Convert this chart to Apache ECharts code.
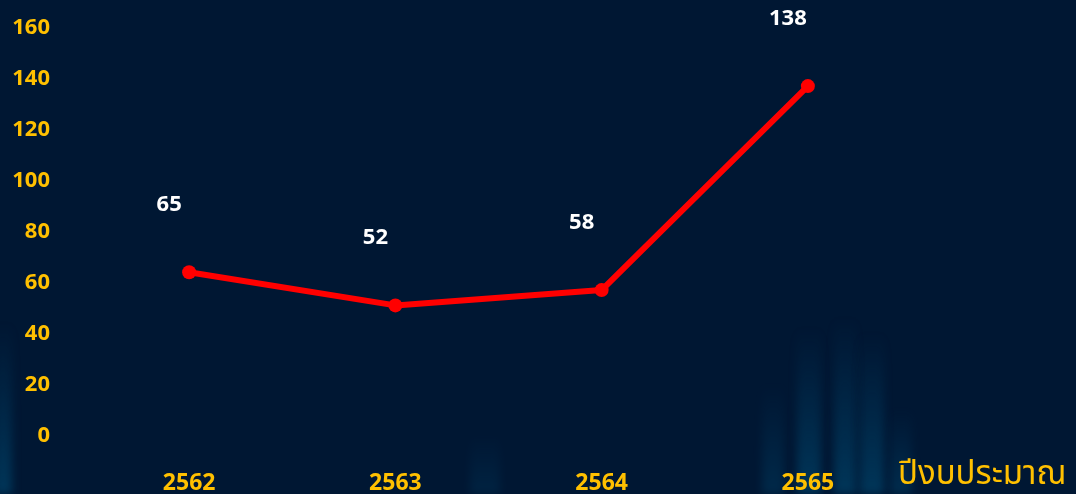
<!DOCTYPE html>
<html>
<head>
<meta charset="utf-8">
<script src="https://cdn.jsdelivr.net/npm/echarts@6/dist/echarts.min.js"></script>
<style>
  html, body { margin: 0; padding: 0; background: #001733; }
  #wrap { position: relative; width: 1076px; height: 494px; overflow: hidden; }
  #main { position: absolute; left: 0; top: 0; width: 1076px; height: 494px; }
  .glow {
    position: absolute;
    bottom: 0;
    filter: blur(4px);
    background: linear-gradient(to bottom, rgba(0, 60, 100, 0), rgba(0, 75, 115, 0.6));
  }
</style>
</head>
<body>
<div id="wrap">
  <!-- แสงพื้นหลัง -->
  <div class="glow" style="left:-6px;width:18px;height:170px"></div>
  <div class="glow" style="left:470px;width:30px;height:60px;opacity:.4"></div>
  <div class="glow" style="left:762px;width:22px;height:110px;opacity:.6"></div>
  <div class="glow" style="left:797px;width:24px;height:165px"></div>
  <div class="glow" style="left:834px;width:22px;height:175px"></div>
  <div class="glow" style="left:860px;width:24px;height:160px"></div>
  <div class="glow" style="left:890px;width:22px;height:85px;opacity:.7"></div>
  <div id="main"></div>
</div>
<script>
  // ข้อมูล
  const years = ['2562', '2563', '2564', '2565'];
  const amounts = [65, 52, 58, 138];
  const yTicks = { min: 0, max: 160, interval: 20 };

  const fontFam = '"Noto Sans Thai", "Noto Sans", Roboto, sans-serif';
  const yellow = '#ffc000';

  const chart = echarts.init(document.getElementById('main'));

  const option = {
    backgroundColor: 'transparent',
    grid: {
      left: 86,
      right: 165,
      top: 30,
      bottom: 56,
      containLabel: false,
      outerBoundsMode: 'none'
    },
    xAxis: {
      type: 'category',
      data: years,
      name: 'ปีงบประมาณ',
      nameLocation: 'end',
      nameGap: -13,
      nameTextStyle: {
        color: yellow,
        fontSize: 33,
        fontFamily: fontFam,
        align: 'left',
        verticalAlign: 'top',
        padding: [23, 0, 0, 0]
      },
      axisLine: { show: false },
      axisTick: { show: false },
      axisLabel: {
        color: yellow,
        fontSize: 23,
        fontWeight: 'bold',
        fontFamily: fontFam,
        margin: 36
      },
      splitLine: { show: false }
    },
    yAxis: {
      type: 'value',
      min: yTicks.min,
      max: yTicks.max,
      interval: yTicks.interval,
      axisLine: { show: false },
      axisTick: { show: false },
      splitLine: { show: false },
      axisLabel: {
        color: yellow,
        fontSize: 22,
        fontWeight: 'bold',
        fontFamily: fontFam,
        margin: 36,
        padding: [0, 0, 8, 0]
      }
    },
    series: [
      {
        type: 'line',
        data: amounts,
        symbol: 'circle',
        symbolSize: 14,
        lineStyle: { color: '#ff0000', width: 6 },
        itemStyle: { color: '#ff0000' },
        label: {
          show: true,
          position: 'top',
          distance: 48,
          offset: [-20, 0],
          color: '#ffffff',
          fontSize: 22,
          fontWeight: 'bold',
          fontFamily: fontFam
        }
      }
    ]
  };

  chart.setOption(option);
  window.addEventListener('resize', function () {
    chart.resize();
  });
</script>
</body>
</html>
